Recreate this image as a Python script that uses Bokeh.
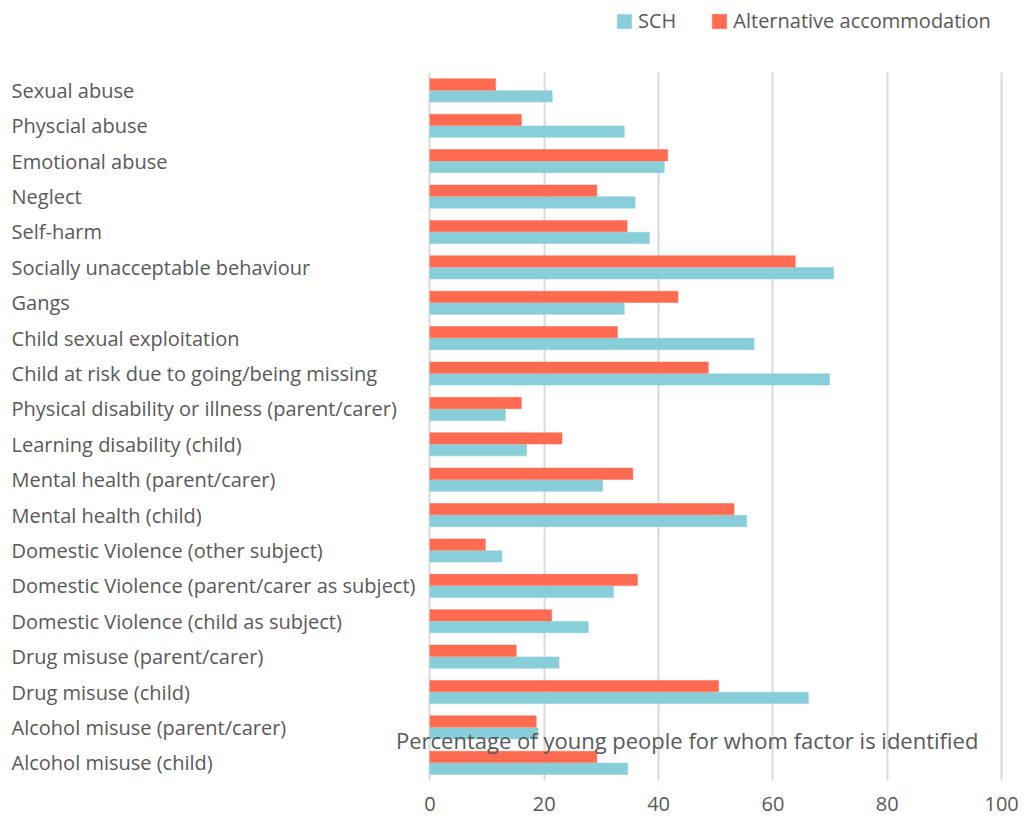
from bokeh.plotting import figure
from bokeh.models import (ColumnDataSource, Range1d, FixedTicker, Legend,
                          LegendItem, Label)
from bokeh.core.properties import value
from bokeh.embed import file_html
from bokeh.resources import INLINE

categories = [
    "Sexual abuse",
    "Physcial abuse",
    "Emotional abuse",
    "Neglect",
    "Self-harm",
    "Socially unacceptable behaviour",
    "Gangs",
    "Child sexual exploitation",
    "Child at risk due to going/being missing",
    "Physical disability or illness (parent/carer)",
    "Learning disability (child)",
    "Mental health (parent/carer)",
    "Mental health (child)",
    "Domestic Violence (other subject)",
    "Domestic Violence (parent/carer as subject)",
    "Domestic Violence (child as subject)",
    "Drug misuse (parent/carer)",
    "Drug misuse (child)",
    "Alcohol misuse (parent/carer)",
    "Alcohol misuse (child)",
]
sch = [21.4, 34.0, 41.0, 35.9, 38.4, 70.6, 34.0, 56.7, 69.9, 13.2,
       16.9, 30.2, 55.4, 12.6, 32.1, 27.7, 22.6, 66.2, 18.9, 34.6]
alt = [11.5, 16.0, 41.6, 29.2, 34.5, 63.9, 43.4, 32.8, 48.7, 16.0,
       23.1, 35.5, 53.2, 9.7, 36.3, 21.3, 15.1, 50.5, 18.6, 29.2]
series_names = ["SCH", "Alternative accommodation"]
x_ticks = [0, 20, 40, 60, 80, 100]
axis_title = "Percentage of young people for whom factor is identified"

SCH_COLOR = "#88CED8"
ALT_COLOR = "#FF6B50"
TEXT_COLOR = "#595959"
FONT = "Open Sans"

# category slot positions: first category at the top, one unit per category
n = len(categories)
ypos = [n - i - 0.5 for i in range(n)]
source = ColumnDataSource(dict(
    cat=categories, sch=sch, alt=alt, y=ypos,
    y_sch=[y - 0.167 for y in ypos], y_alt=[y + 0.167 for y in ypos],
))

p = figure(
    width=1025, height=817,
    x_range=Range1d(-75.1, 100.5),
    y_range=Range1d(0, n + 2.04),
    output_backend="svg", toolbar_location=None,
    y_axis_location=None,
    min_border_left=0, min_border_right=21, min_border_top=0, min_border_bottom=37,
)
p.outline_line_color = None
p.background_fill_color = "white"
p.border_fill_color = "white"

r_sch = p.hbar(y="y_sch", left=0, right="sch", height=0.32, source=source,
               fill_color=SCH_COLOR, line_color=SCH_COLOR, line_width=0.5)
r_alt = p.hbar(y="y_alt", left=0, right="alt", height=0.32, source=source,
               fill_color=ALT_COLOR, line_color=ALT_COLOR, line_width=0.5)

p.text(x=-73.17, y="y", text="cat", source=source, text_font=value(FONT),
       text_font_size="20px", text_color=TEXT_COLOR, text_align="left",
       text_baseline="middle")

p.ygrid.visible = False
p.xgrid.ticker = FixedTicker(ticks=x_ticks)
p.xgrid.grid_line_color = "#D9D9D9"
p.xgrid.grid_line_width = 2
p.xgrid.level = "underlay"
p.xgrid.bounds = (0, 100)
p.xgrid.cross_bounds = (-0.05, n)

xa = p.xaxis[0]
xa.ticker = FixedTicker(ticks=x_ticks)
xa.axis_line_color = None
xa.major_tick_line_color = None
xa.minor_tick_line_color = None
xa.major_label_text_font = FONT
xa.major_label_text_font_size = "20px"
xa.major_label_text_color = TEXT_COLOR
xa.major_label_standoff = 10

p.add_layout(Label(x=45.0, y=1.15, text=axis_title, text_font=FONT, text_font_size="22px",
                   text_color=TEXT_COLOR, text_align="center", text_baseline="middle"))

legend = Legend(items=[LegendItem(label=series_names[0], renderers=[r_sch]),
                       LegendItem(label=series_names[1], renderers=[r_alt])],
                orientation="horizontal", location=(615, 746),
                glyph_width=18, glyph_height=18, label_height=18,
                label_standoff=5, spacing=34,
                padding=0, margin=0, border_line_color=None,
                label_text_font=FONT, label_text_font_size="20px",
                label_text_color=TEXT_COLOR, background_fill_alpha=0)
p.add_layout(legend, "center")

open("out.html", "w").write(file_html(p, INLINE))
